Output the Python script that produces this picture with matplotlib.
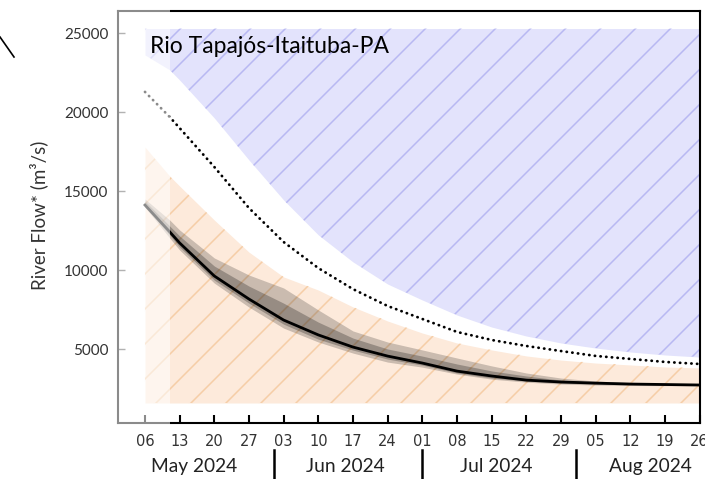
import numpy as np
import pandas as pd
import matplotlib
matplotlib.use("Agg")
import matplotlib.pyplot as plt
import matplotlib.dates as mdates
import matplotlib.transforms as mtransforms
from matplotlib.collections import LineCollection
from matplotlib.lines import Line2D
from matplotlib.patches import Rectangle

# --- dati (m3/s) ---
dates = pd.to_datetime([
    "2024-05-06", "2024-05-11", "2024-05-13", "2024-05-20", "2024-05-27",
    "2024-06-03", "2024-06-10", "2024-06-17", "2024-06-24", "2024-07-01",
    "2024-07-08", "2024-07-15", "2024-07-22", "2024-07-29", "2024-08-05",
    "2024-08-12", "2024-08-19", "2024-08-26",
])
blue_low = [23630, 22680, 22040, 19640, 16980, 14450, 12240, 10530, 9130, 8120,
            7170, 6410, 5840, 5400, 5080, 4830, 4640, 4510]
blue_top = 25300
clim_mean = [21290, 19700, 19000, 16540, 13940, 11790, 10140, 8810, 7740, 6920,
             6100, 5590, 5210, 4890, 4580, 4390, 4200, 4070]
orange_top = [17800, 15960, 15330, 13180, 11150, 9580, 8750, 7680, 6790, 6030,
              5400, 4960, 4580, 4320, 4130, 4010, 3880, 3820]
orange_bottom = 1600
median = [14130, 12430, 11730, 9640, 8180, 6850, 5910, 5140, 4570, 4130,
          3620, 3310, 3050, 2930, 2860, 2800, 2770, 2740]
outer_hi = [14510, 13180, 12550, 10780, 9700, 8880, 7490, 6160, 5460, 4960,
            4450, 3950, 3500, 3180, 2990, 2900, 2830, 2800]
outer_lo = [14000, 12040, 11280, 9190, 7670, 6340, 5460, 4760, 4190, 3870,
            3430, 3110, 2920, 2800, 2740, 2710, 2700, 2690]
inner_hi = [14380, 12800, 12170, 10270, 9000, 7920, 6720, 5710, 5020, 4570,
            4070, 3630, 3310, 3050, 2920, 2860, 2800, 2770]
inner_lo = [14060, 12230, 11470, 9380, 7920, 6590, 5640, 4950, 4380, 4000,
            3500, 3180, 2990, 2860, 2800, 2770, 2740, 2710]

forecast_start = pd.Timestamp("2024-05-11")
month_starts = pd.to_datetime(["2024-06-01", "2024-07-01", "2024-08-01"])
month_labels = ["May 2024", "Jun 2024", "Jul 2024", "Aug 2024"]
month_mid = pd.to_datetime(["2024-05-16 00:00", "2024-06-15 12:00",
                            "2024-07-16 00:00", "2024-08-16 00:00"])

FONT = "Lato"

fig = plt.figure(figsize=(7.05, 4.79), dpi=100)
AX_W, AX_H = 581.6, 412
ax = fig.add_axes([118 / 705, 56 / 479, AX_W / 705, AX_H / 479])

x_left = pd.Timestamp("2024-05-06") - pd.Timedelta(days=5.45)
x_right = pd.Timestamp("2024-08-26")
ax.set_xlim(x_left, x_right)
ax.set_ylim(335, 26411)


def tratteggio(coll, color):
    # linee diagonali a 45 gradi, ritagliate sulla regione
    segs = []
    for x0 in np.arange(-AX_H + 10, AX_W, 35):
        segs.append([(x0 / AX_W, 0), ((x0 + AX_H) / AX_W, 1)])
    lc = LineCollection(segs, colors=color, linewidths=1.1,
                        transform=ax.transAxes, zorder=coll.get_zorder() + 0.1)
    lc.set_clip_path(coll.get_paths()[0], ax.transData)
    ax.add_collection(lc, autolim=False)


# regioni sopra / sotto la norma
blu = ax.fill_between(dates, blue_low, blue_top, color="#e3e3fc", lw=0, zorder=1)
tratteggio(blu, "#b8b8f2")
ara = ax.fill_between(dates, orange_bottom, orange_top, color="#fdeadb", lw=0, zorder=1)
tratteggio(ara, "#f6cda6")

# media climatologica
ax.plot(dates, clim_mean, color="black", lw=2.0, linestyle=(0, (0.1, 1.95)),
        dash_capstyle="round", zorder=4)

# ensemble
ax.fill_between(dates, outer_lo, outer_hi, color="black", alpha=0.2, lw=0, zorder=3)
ax.fill_between(dates, inner_lo, inner_hi, color="black", alpha=0.25, lw=0, zorder=3)
ax.plot(dates, median, color="black", lw=2.0, zorder=5)

# parte osservata sbiadita
trans = mtransforms.blended_transform_factory(ax.transData, ax.transAxes)
x0 = mdates.date2num(x_left - pd.Timedelta(days=1))
w = mdates.date2num(forecast_start) - x0
ax.add_patch(Rectangle((x0, -0.01), w, 1.02, transform=trans, facecolor="white",
                       alpha=0.55, edgecolor="none", zorder=10, clip_on=False))

# assi
for s in ax.spines.values():
    s.set_linewidth(1.5)
    s.set_color("black")
ax.set_yticks([5000, 10000, 15000, 20000, 25000])
ax.tick_params(axis="y", direction="in", length=5, width=1, color="#555555",
               labelsize=11, labelcolor="#333333", pad=7)
for lab in ax.get_yticklabels():
    lab.set_fontfamily(FONT)
ax.xaxis.set_major_locator(mdates.WeekdayLocator(byweekday=mdates.MO))
ax.xaxis.set_major_formatter(mdates.DateFormatter("%d"))
ax.tick_params(axis="x", direction="in", length=6, width=1.5,
               labelsize=10.5, labelcolor="#333333", pad=8)

# mesi sotto l'asse
for d in month_starts:
    ax.plot([d, d], [-0.066, -0.14], transform=trans, color="black", lw=1.8,
            clip_on=False)
for d, lab in zip(month_mid, month_labels):
    ax.text(d, -0.105, lab, transform=trans, ha="center", va="center",
            fontsize=13.8, fontfamily=FONT, color="#222222")

ax.text(0.055, 0.913, "Rio Tapajós-Itaituba-PA", transform=ax.transAxes,
        ha="left", va="center", fontsize=16.5, fontfamily=FONT, color="black",
        zorder=12)

fig.text(39 / 705, 1 - 215 / 479, "River Flow* (m³/s)", rotation=90,
         ha="center", va="center", fontsize=13.5, fontfamily=FONT, color="#333333")

# frammento di linea in alto a sinistra
fig.add_artist(Line2D([0, 14 / 705], [1 - 37 / 479, 1 - 57 / 479],
                      color="black", lw=1.2))

fig.savefig("out.png", dpi=100)
